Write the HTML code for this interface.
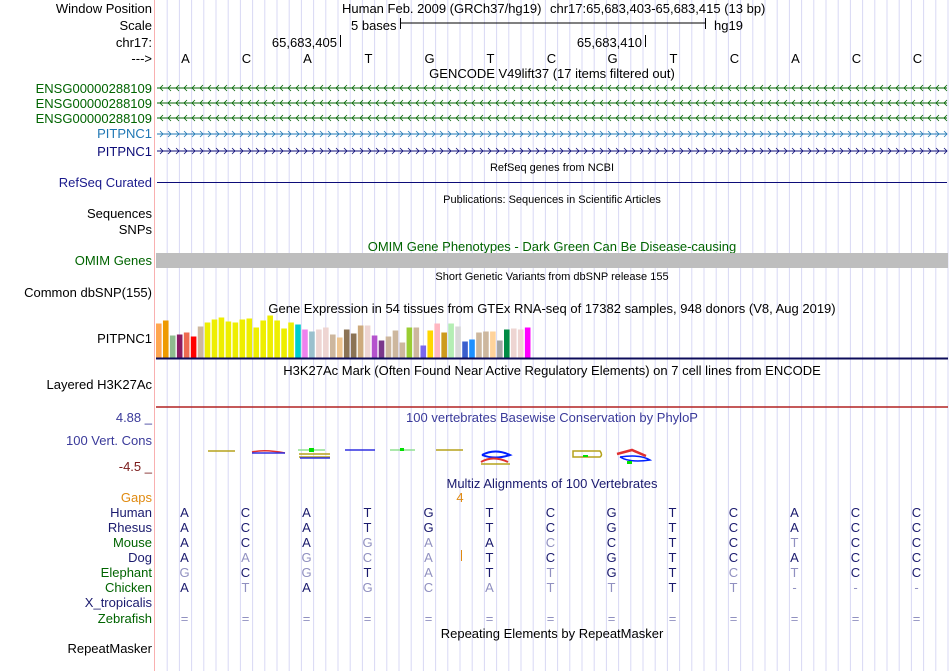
<!DOCTYPE html>
<html><head><meta charset="utf-8"><style>
html,body{margin:0;padding:0;background:#fff;}
svg{display:block;font-family:"Liberation Sans",sans-serif;}
</style></head><body>
<svg id="s" width="950" height="671" viewBox="0 0 950 671" xmlns="http://www.w3.org/2000/svg">
<g id="guides"></g>
<line x1="154.5" y1="0" x2="154.5" y2="671" stroke="#f9b0b0" stroke-width="1"/>
<g id="labels" font-size="13" text-anchor="end"></g>
<g id="tracks"></g>
</svg>
<script>
// GTEx data
const tissueValues=[34,37,22,23,25,21,31,35,38,40,36,35,38,39,30,37,42,37,29,35,33,28,26,28,30,23,20,28,24,32,32,22,17,21,27,15,30,30,12,27,34,25,34,31,16,18,25,26,26,17,28,29,28,30];
const tissueColors=["#FFA54F","#EE9A00","#8FBC8F","#8B1C62","#EE6A50","#FF0000","#CDB79E","#EEEE00","#EEEE00","#EEEE00","#EEEE00","#EEEE00","#EEEE00","#EEEE00","#EEEE00","#EEEE00","#EEEE00","#EEEE00","#EEEE00","#EEEE00","#00CDCD","#EE82EE","#9AC0CD","#EED5D2","#EED5D2","#CDB79E","#EEC591","#8B7355","#8B7355","#CDAA7D","#EED5D2","#B452CD","#7A378B","#CDB79E","#CDB79E","#CDB79E","#9ACD32","#CDB79E","#7A67EE","#FFD700","#FFB6C1","#CD9B1D","#B4EEB4","#D9D9D9","#3A5FCD","#1E90FF","#CDB79E","#CDB79E","#FFD39B","#A6A6A6","#008B45","#EED5D2","#EED5D2","#FF00FF"];
const bases=["A","C","A","T","G","T","C","G","T","C","A","C","C"];
const species=["Human","Rhesus","Mouse","Dog","Elephant","Chicken","X_tropicalis","Zebrafish"];
const alignSeqs=["ACATGTCGTCACC","ACATGTCGTCACC","ACAGAACCTCTCC","AAGCATCGTCACC","GCGTATTGTCTCC","ATAGCATTTT---","","============="];
const alignDark=["1111111111111","1111111111111","1110010111011","1000011111111","0101010110011","1010000010000","","0000000000000"];

const NS="http://www.w3.org/2000/svg";
const S=document.getElementById('s');
function mk(tag,attrs,parent,txt){const e=document.createElementNS(NS,tag);for(const k in attrs)e.setAttribute(k,attrs[k]);if(txt!=null)e.textContent=txt;(parent||S).appendChild(e);return e;}
const X0=155,BW=61;
const bx=i=>X0+BW*(i+0.5);
const G=document.getElementById('guides');
for(let k=1;k<66;k++){const x=X0+k*12.2;const l=mk('line',{x1:x,y1:0,x2:x,y2:671,stroke:'#d8d8f4','stroke-width':1},G);

}
const L=document.getElementById('labels');
const labs=[["Window Position",13,"#000"],["Scale",30,"#000"],["chr17:",47,"#000"],["--->",63,"#000"],["ENSG00000288109",93,"#006400"],["ENSG00000288109",108,"#006400"],["ENSG00000288109",123,"#006400"],["PITPNC1",138,"#1f77b4"],["PITPNC1",156,"#0c0c78"],["RefSeq Curated",187,"#1a1a8c"],["Sequences",218,"#000"],["SNPs",234,"#000"],["OMIM Genes",265,"#006400"],["Common dbSNP(155)",297,"#000"],["PITPNC1",343,"#000"],["Layered H3K27Ac",389,"#000"],["100 Vert. Cons",445,"#3a3a9a"],["Gaps",502,"#e08a10"]];
labs.forEach(a=>{const t=mk('text',{x:152,y:a[1],fill:a[2]},L,a[0]);

});
species.forEach((s,i)=>{const t=mk('text',{x:152,y:517+i*15+(i==7?1:0),fill:[2,4,5,7].includes(i)?'#006400':'#1a1a6e'},L,s);

});
[["RepeatMasker",653]].forEach(a=>{const t=mk('text',{x:152,y:a[1],fill:'#000'},L,a[0]);

});
const T=document.getElementById('tracks');
function txt(x,y,s,opts){const o=Object.assign({x:x,y:y,'font-size':13,'text-anchor':'middle',fill:'#000'},opts||{});return mk('text',o,T,s);}
let e;
e=txt(342,13,"Human Feb. 2009 (GRCh37/hg19)",{'text-anchor':'start'});

e=txt(550,13,"chr17:65,683,403-65,683,415 (13 bp)",{'text-anchor':'start'});

e=txt(351,30,"5 bases",{'text-anchor':'start'});

mk('path',{d:'M400.5 18v11M400.5 23H705.5M705.5 18v11',stroke:'#000',fill:'none'},T);
e=txt(714,30,"hg19",{'text-anchor':'start'});

e=txt(337,47,"65,683,405",{'text-anchor':'end'});
e=txt(642,47,"65,683,410",{'text-anchor':'end'});
mk('path',{d:'M340.5 35v12M645.5 35v12',stroke:'#000'},T);
bases.forEach((b,i)=>{const q=txt(bx(i),63,b);});
e=txt(552,78,"GENCODE V49lift37 (17 items filtered out)");
function gene(y,color,dir){const g=mk('g',{},T);
mk('line',{x1:157,y1:y,x2:947,y2:y,stroke:color},g);let d='';
for(let x=160;x<946;x+=8){d+=dir<0?`M${x+3} ${y-3}L${x} ${y}L${x+3} ${y+3}`:`M${x} ${y-3}L${x+3} ${y}L${x} ${y+3}`;}
mk('path',{d:d,stroke:color,fill:'none','stroke-width':0.8},g);}
gene(88,'#006400',-1);gene(103,'#006400',-1);gene(118,'#006400',-1);gene(134,'#1f77b4',1);gene(151,'#0c0c78',1);
e=txt(552,171,"RefSeq genes from NCBI",{'font-size':11});
mk('line',{x1:157,y1:182.5,x2:947,y2:182.5,stroke:'#0c0c78'},T);
e=txt(552,203,"Publications: Sequences in Scientific Articles",{'font-size':11});
e=txt(552,251,"OMIM Gene Phenotypes - Dark Green Can Be Disease-causing",{fill:'#006400'});
e=mk('rect',{x:156,y:253,width:792,height:15,fill:'#bebebe'},T);
e=txt(552,280,"Short Genetic Variants from dbSNP release 155",{'font-size':11});
e=txt(552,313,"Gene Expression in 54 tissues from GTEx RNA-seq of 17382 samples, 948 donors (V8, Aug 2019)");
const yb=357.5,sc=1.0,pitch=6.96;
tissueValues.forEach((v,i)=>{const r=mk('rect',{x:156+i*pitch,y:yb-v*sc,width:5.6,height:v*sc,fill:tissueColors[i]},T);

});
mk('line',{x1:156,y1:358.5,x2:948,y2:358.5,stroke:'#0c0c5a','stroke-width':2},T);
e=txt(552,375,"H3K27Ac Mark (Often Found Near Active Regulatory Elements) on 7 cell lines from ENCODE");
mk('line',{x1:156,y1:407,x2:948,y2:407,stroke:'#b22222','stroke-width':1.5},T);
e=txt(552,422,"100 vertebrates Basewise Conservation by PhyloP",{fill:'#3a3a9a'});
e=txt(152,422,"4.88 _",{'text-anchor':'end',fill:'#3a3a9a'});
e=txt(152,471,"-4.5 _",{'text-anchor':'end',fill:'#7a1a1a'});
const cons=mk('g',{fill:'none','stroke-width':1.5},T);
mk('path',{d:'M208 451H235',stroke:'#b5a21b'},cons);
mk('path',{d:'M252 452Q265 449 285 453',stroke:'#e03030'},cons);mk('path',{d:'M252 453H285',stroke:'#3030e0'},cons);
mk('path',{d:'M298 450H325',stroke:'#90e090'},cons);mk('rect',{x:309,y:448,width:5,height:4,fill:'#00e000',stroke:'none'},cons);mk('path',{d:'M299 454H330M299 457H330',stroke:'#b5a21b'},cons);mk('path',{d:'M300 458H330',stroke:'#3030e0'},cons);
mk('path',{d:'M345 450H375',stroke:'#3030e0'},cons);mk('path',{d:'M390 450H415',stroke:'#90e090'},cons);mk('rect',{x:400,y:448,width:4,height:3,fill:'#00e000',stroke:'none'},cons);
mk('path',{d:'M436 450H463',stroke:'#b5a21b'},cons);
mk('path',{d:'M482 455Q495 448 510 455Q495 460 482 455',stroke:'#0020ff','stroke-width':2},cons);mk('path',{d:'M481 462Q493 455 508 462',stroke:'#e03030','stroke-width':2},cons);mk('path',{d:'M481 464H510',stroke:'#b5a21b','stroke-width':1.5},cons);
mk('path',{d:'M573 451H600Q603 455 600 457H573Z',stroke:'#b5a21b'},cons);mk('rect',{x:583,y:455,width:5,height:2,fill:'#00e000',stroke:'none'},cons);
mk('path',{d:'M617 454L632 450L646 456',stroke:'#e03030','stroke-width':2.5},cons);mk('path',{d:'M620 457Q640 454 650 460Q630 463 620 457',stroke:'#0020ff'},cons);mk('rect',{x:627,y:461,width:5,height:3,fill:'#00e000',stroke:'none'},cons);
e=txt(552,488,"Multiz Alignments of 100 Vertebrates",{fill:'#1a1a6e'});
e=txt(460,502,"4",{fill:'#e08a10'});
mk('line',{x1:461.5,y1:550,x2:461.5,y2:561,stroke:'#e08a10'},T);
alignSeqs.forEach((seq,r)=>{for(let i=0;i<seq.length;i++){const dark=alignDark[r][i]==='1';
const q=txt(bx(i)-1,517+r*15+(r==7?1:0),seq[i],{fill:dark?'#1a1a6e':'#9090c0'});

}});
e=txt(552,638,"Repeating Elements by RepeatMasker");
</script>
</body></html>
